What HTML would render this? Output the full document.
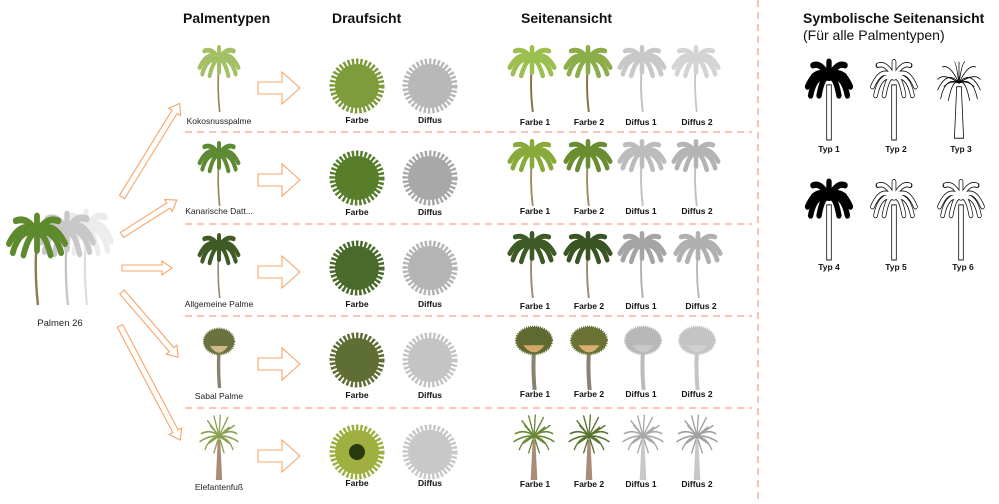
<!DOCTYPE html>
<html><head><meta charset="utf-8"><style>
html,body{margin:0;padding:0;background:#fff;}
svg{display:block;font-family:"Liberation Sans",Arial,sans-serif;}
.h{font-weight:bold;font-size:14px;fill:#111}
.l{font-size:8.5px;fill:#222}
.b{font-weight:bold;font-size:8.5px;fill:#111}
.ar{fill:none;stroke:#f7a468;stroke-width:1.1}
.ds{stroke:#f9a48c;stroke-width:1.3;stroke-dasharray:7 5}
</style></head><body>
<svg width="999" height="504" viewBox="0 0 999 504" xmlns="http://www.w3.org/2000/svg">
<defs>
<symbol id="palm" viewBox="0 0 60 80" preserveAspectRatio="none" overflow="visible">
<path d="M30,20 Q27,50 31,80" fill="none" stroke="var(--t,#9a8460)" stroke-width="2.5"/>
<g fill="none" stroke="var(--c,#7a9a3a)" stroke-width="6" stroke-linecap="round">
<path d="M30,16 Q14,4 1,26"/><path d="M30,16 Q12,12 5,34"/><path d="M30,16 Q20,2 8,6"/>
<path d="M30,16 Q30,0 30,2"/><path d="M30,16 Q40,2 52,6"/><path d="M30,16 Q46,4 59,26"/>
<path d="M30,16 Q48,12 55,34"/><path d="M30,16 Q22,16 16,36"/><path d="M30,16 Q38,16 44,36"/>
<path d="M30,16 Q26,10 10,16"/><path d="M30,16 Q34,10 50,16"/><path d="M30,16 L30,32"/>
</g>
</symbol>
<symbol id="spal" viewBox="0 0 60 80" preserveAspectRatio="none" overflow="visible">
<path d="M30,30 Q28,55 31,80" fill="none" stroke="var(--t,#9a8460)" stroke-width="6"/>
<ellipse cx="30" cy="18" rx="27" ry="17" fill="var(--c)" stroke="var(--c)" stroke-width="3" stroke-dasharray="1.5 1.5"/>
<path d="M14,24 Q30,42 46,24 Z" fill="var(--d,#c8a060)"/>
</symbol>
<symbol id="ele" viewBox="0 0 60 80" preserveAspectRatio="none" overflow="visible">
<path d="M28,30 L32,30 L35,80 L25,80 Z" fill="var(--t,#b09080)"/>
<g fill="none" stroke="var(--c)" stroke-width="2" stroke-linecap="round">
<path d="M30,25 Q16,16 2,22"/><path d="M30,25 L12,6"/><path d="M30,25 L22,0"/><path d="M30,25 L32,-1"/><path d="M30,25 L44,2"/><path d="M30,25 L54,12"/><path d="M30,25 Q46,16 58,22"/><path d="M30,25 Q46,28 52,42"/><path d="M30,25 L38,46"/><path d="M30,25 L22,46"/><path d="M30,25 Q14,28 8,42"/><path d="M30,25 Q14,24 0,32"/><path d="M30,25 L16,12"/><path d="M30,25 L46,14"/><path d="M30,25 L14,34"/><path d="M30,25 L46,34"/><path d="M30,25 Q46,24 60,32"/>
</g>
</symbol>
<symbol id="top" viewBox="-30 -30 60 60">
<circle r="22" fill="var(--c)" stroke="var(--c)" stroke-width="11" stroke-dasharray="2.2 1.6"/>
</symbol>
<symbol id="sym1" viewBox="0 0 60 90" preserveAspectRatio="none" overflow="visible">
<rect x="27" y="28" width="6" height="62" fill="#fff" stroke="#000" stroke-width="1"/>
<g fill="none" stroke="#000" stroke-width="7" stroke-linecap="round">
<path d="M30,20 Q14,6 2,30"/><path d="M30,20 Q12,14 6,40"/><path d="M30,20 Q20,2 9,6"/>
<path d="M30,20 Q30,0 30,2"/><path d="M30,20 Q40,2 51,6"/><path d="M30,20 Q46,6 58,30"/>
<path d="M30,20 Q48,14 54,40"/><path d="M30,20 Q22,16 17,40"/><path d="M30,20 Q38,16 43,40"/><path d="M30,20 Q26,10 10,18"/><path d="M30,20 Q34,10 50,18"/>
</g>
</symbol>
<symbol id="sym2" viewBox="0 0 60 90" preserveAspectRatio="none" overflow="visible">
<rect x="27" y="28" width="6" height="62" fill="#fff" stroke="#000" stroke-width="1"/>
<g fill="none" stroke="#000" stroke-width="6" stroke-linecap="round">
<path d="M30,20 Q14,6 2,30"/><path d="M30,20 Q12,14 6,40"/><path d="M30,20 Q20,2 9,6"/>
<path d="M30,20 Q30,0 30,2"/><path d="M30,20 Q40,2 51,6"/><path d="M30,20 Q46,6 58,30"/>
<path d="M30,20 Q48,14 54,40"/><path d="M30,20 Q22,16 17,40"/><path d="M30,20 Q38,16 43,40"/>
</g>
<g fill="none" stroke="#fff" stroke-width="4.2" stroke-linecap="round" stroke-dasharray="3 1">
<path d="M30,20 Q14,6 2,30"/><path d="M30,20 Q12,14 6,40"/><path d="M30,20 Q20,2 9,6"/>
<path d="M30,20 Q30,0 30,2"/><path d="M30,20 Q40,2 51,6"/><path d="M30,20 Q46,6 58,30"/>
<path d="M30,20 Q48,14 54,40"/><path d="M30,20 Q22,16 17,40"/><path d="M30,20 Q38,16 43,40"/>
</g>
</symbol>
<symbol id="sym3" viewBox="0 0 60 90" preserveAspectRatio="none" overflow="visible">
<path d="M27,30 L33,30 L36,88 L24,88 Z" fill="#fff" stroke="#000" stroke-width="1"/>
<g fill="none" stroke="#000" stroke-width="1">
<path d="M30,26 Q15,10 2,34"/><path d="M30,26 Q12,18 6,44"/><path d="M30,26 Q18,4 8,8"/><path d="M30,26 Q26,2 24,2"/><path d="M30,26 Q34,2 38,2"/><path d="M30,26 Q42,4 52,8"/><path d="M30,26 Q45,10 58,34"/><path d="M30,26 Q48,18 54,44"/><path d="M30,26 Q22,20 16,46"/><path d="M30,26 Q38,20 44,46"/><path d="M30,26 L30,2"/><path d="M30,26 Q10,14 2,22"/><path d="M30,26 Q50,14 58,22"/><path d="M30,26 Q20,22 10,30"/><path d="M30,26 Q40,22 50,30"/>
</g>
</symbol>
</defs>

<text class="h" x="183" y="23">Palmentypen</text>
<text class="h" x="332" y="23">Draufsicht</text>
<text class="h" x="521" y="23">Seitenansicht</text>
<text class="h" x="803" y="23">Symbolische Seitenansicht</text>
<text x="803" y="40" style="font-size:14px;fill:#111">(Für alle Palmentypen)</text>

<use href="#palm" x="60" y="210" width="52" height="95" style="--c:#ececec;--t:#ddd"/>
<use href="#palm" x="40" y="212" width="54" height="93" style="--c:#c8c8c8;--t:#c4c4c4"/>
<use href="#palm" x="8" y="214" width="58" height="91" style="--c:#5e8a2e;--t:#8c7a50"/>
<text class="l" x="60" y="326" text-anchor="middle" style="font-size:9.5px">Palmen 26</text>

<g class="ar">
<path transform="translate(122,197) rotate(-58.3)" d="M0,-3 L100,-3 L100,-7 L110,0 L100,7 L100,3 L0,3 Z"/>
<path transform="translate(122,235) rotate(-32.5)" d="M0,-3 L55,-3 L55,-7 L65,0 L55,7 L55,3 L0,3 Z"/>
<path transform="translate(122,268)" d="M0,-3 L40,-3 L40,-7 L50,0 L40,7 L40,3 L0,3 Z"/>
<path transform="translate(122,292) rotate(49.3)" d="M0,-3 L76,-3 L76,-7 L86,0 L76,7 L76,3 L0,3 Z"/>
<path transform="translate(120,326) rotate(62.2)" d="M0,-3 L119,-3 L119,-7 L129,0 L119,7 L119,3 L0,3 Z"/>
</g>

<line class="ds" x1="758" y1="0" x2="758" y2="504"/>
<line class="ds" x1="185" y1="132" x2="752" y2="132"/>
<line class="ds" x1="185" y1="224" x2="752" y2="224"/>
<line class="ds" x1="185" y1="316" x2="752" y2="316"/>
<line class="ds" x1="185" y1="408" x2="752" y2="408"/>

<g>
<use href="#palm" x="199" y="46" width="40" height="66" style="--c:#a4c064;--t:#9a8460"/>
<text class="l" x="219" y="124" text-anchor="middle">Kokosnusspalme</text>
<polygon class="ar" points="258,82 282,82 282,72 300,88 282,104 282,94 258,94"/>
<use href="#top" x="327" y="56" width="60" height="60" style="--c:#7f9c3c"/>
<use href="#top" x="400" y="56" width="60" height="60" style="--c:#b8b8b8"/>
<text class="b" x="357" y="123" text-anchor="middle">Farbe</text>
<text class="b" x="430" y="123" text-anchor="middle">Diffus</text>
<use href="#palm" x="509" y="46" width="46" height="66" style="--c:#9cc050;--t:#8c6c40"/>
<use href="#palm" x="565" y="46" width="46" height="66" style="--c:#8cae4a;--t:#8c6c40"/>
<use href="#palm" x="619" y="46" width="46" height="66" style="--c:#c8c8c8;--t:#c0c0c0"/>
<use href="#palm" x="673" y="46" width="46" height="66" style="--c:#d4d4d4;--t:#c8c8c8"/>
<text class="b" x="535" y="125" text-anchor="middle">Farbe 1</text>
<text class="b" x="589" y="125" text-anchor="middle">Farbe 2</text>
<text class="b" x="641" y="125" text-anchor="middle">Diffus 1</text>
<text class="b" x="697" y="125" text-anchor="middle">Diffus 2</text>
</g>
<g transform="translate(0,92)">
<use href="#palm" x="199" y="50" width="40" height="64" style="--c:#5f8a34;--t:#9a8460"/>
<text class="l" x="219" y="122" text-anchor="middle">Kanarische Datt...</text>
<polygon class="ar" points="258,82 282,82 282,72 300,88 282,104 282,94 258,94"/>
<use href="#top" x="327" y="56" width="60" height="60" style="--c:#587e2c"/>
<use href="#top" x="400" y="56" width="60" height="60" style="--c:#a8a8a8"/>
<text class="b" x="357" y="123" text-anchor="middle">Farbe</text>
<text class="b" x="430" y="123" text-anchor="middle">Diffus</text>
<use href="#palm" x="509" y="48" width="46" height="66" style="--c:#88aa3a;--t:#a08a60"/>
<use href="#palm" x="565" y="48" width="46" height="66" style="--c:#6a8c30;--t:#a08a60"/>
<use href="#palm" x="619" y="48" width="46" height="66" style="--c:#bcbcbc;--t:#c0c0c0"/>
<use href="#palm" x="673" y="48" width="46" height="66" style="--c:#b4b4b4;--t:#c0c0c0"/>
<text class="b" x="535" y="122" text-anchor="middle">Farbe 1</text>
<text class="b" x="589" y="122" text-anchor="middle">Farbe 2</text>
<text class="b" x="641" y="122" text-anchor="middle">Diffus 1</text>
<text class="b" x="697" y="122" text-anchor="middle">Diffus 2</text>
</g>
<g transform="translate(0,184)">
<use href="#palm" x="199" y="50" width="40" height="64" style="--c:#3f5a24;--t:#9a8a70"/>
<text class="l" x="219" y="123" text-anchor="middle">Allgemeine Palme</text>
<polygon class="ar" points="258,82 282,82 282,72 300,88 282,104 282,94 258,94"/>
<use href="#top" x="327" y="54" width="60" height="60" style="--c:#4a6a2c"/>
<use href="#top" x="400" y="54" width="60" height="60" style="--c:#b4b4b4"/>
<text class="b" x="357" y="123" text-anchor="middle">Farbe</text>
<text class="b" x="430" y="123" text-anchor="middle">Diffus</text>
<use href="#palm" x="509" y="48" width="46" height="66" style="--c:#3e5a26;--t:#9a8a70"/>
<use href="#palm" x="565" y="48" width="46" height="66" style="--c:#3a5424;--t:#9a8a70"/>
<use href="#palm" x="619" y="48" width="46" height="66" style="--c:#a4a4a4;--t:#b0b0b0"/>
<use href="#palm" x="675" y="48" width="46" height="66" style="--c:#b0b0b0;--t:#b8b8b8"/>
<text class="b" x="535" y="125" text-anchor="middle">Farbe 1</text>
<text class="b" x="589" y="125" text-anchor="middle">Farbe 2</text>
<text class="b" x="641" y="125" text-anchor="middle">Diffus 1</text>
<text class="b" x="701" y="125" text-anchor="middle">Diffus 2</text>
</g>
<g transform="translate(0,276)">
<use href="#spal" x="202" y="52" width="34" height="60" style="--c:#6a7340;--d:#d0b888;--t:#8a8270"/>
<text class="l" x="219" y="123" text-anchor="middle">Sabal Palme</text>
<polygon class="ar" points="258,82 282,82 282,72 300,88 282,104 282,94 258,94"/>
<use href="#top" x="327" y="54" width="60" height="60" style="--c:#5e6e34"/>
<use href="#top" x="400" y="54" width="60" height="60" style="--c:#c4c4c4"/>
<text class="b" x="357" y="122" text-anchor="middle">Farbe</text>
<text class="b" x="430" y="122" text-anchor="middle">Diffus</text>
<use href="#spal" x="514" y="50" width="40" height="64" style="--c:#5e6a30;--d:#d2a868;--t:#8a8270"/>
<use href="#spal" x="569" y="50" width="40" height="64" style="--c:#6a7234;--d:#d8b070;--t:#8a8270"/>
<use href="#spal" x="623" y="50" width="40" height="64" style="--c:#b8b8b8;--d:#c8c8c8;--t:#bcbcbc"/>
<use href="#spal" x="677" y="50" width="40" height="64" style="--c:#c4c4c4;--d:#d0d0d0;--t:#c4c4c4"/>
<text class="b" x="535" y="121" text-anchor="middle">Farbe 1</text>
<text class="b" x="589" y="121" text-anchor="middle">Farbe 2</text>
<text class="b" x="641" y="121" text-anchor="middle">Diffus 1</text>
<text class="b" x="697" y="121" text-anchor="middle">Diffus 2</text>
</g>
<g transform="translate(0,368)">
<use href="#ele" x="200" y="48" width="38" height="64" style="--c:#8aa050;--t:#a88c78"/>
<text class="l" x="219" y="122" text-anchor="middle">Elefantenfuß</text>
<polygon class="ar" points="258,82 282,82 282,72 300,88 282,104 282,94 258,94"/>
<use href="#top" x="327" y="54" width="60" height="60" style="--c:#a0b040"/>
<circle cx="357" cy="84" r="8" fill="#2a3a10"/>
<use href="#top" x="400" y="54" width="60" height="60" style="--c:#c8c8c8"/>
<text class="b" x="357" y="118" text-anchor="middle">Farbe</text>
<text class="b" x="430" y="118" text-anchor="middle">Diffus</text>
<use href="#ele" x="514" y="48" width="40" height="64" style="--c:#6a8838;--t:#a88c78"/>
<use href="#ele" x="569" y="48" width="40" height="64" style="--c:#5a7430;--t:#a88c78"/>
<use href="#ele" x="623" y="48" width="40" height="64" style="--c:#a8a8a8;--t:#c8c8c8"/>
<use href="#ele" x="677" y="48" width="40" height="64" style="--c:#a0a0a0;--t:#c8c8c8"/>
<text class="b" x="535" y="119" text-anchor="middle">Farbe 1</text>
<text class="b" x="589" y="119" text-anchor="middle">Farbe 2</text>
<text class="b" x="641" y="119" text-anchor="middle">Diffus 1</text>
<text class="b" x="697" y="119" text-anchor="middle">Diffus 2</text>
</g>

<use href="#sym1" x="806" y="60" width="46" height="80"/>
<use href="#sym2" x="871" y="60" width="46" height="80"/>
<use href="#sym3" x="936" y="60" width="46" height="80"/>
<text class="b" x="829" y="152" text-anchor="middle">Typ 1</text>
<text class="b" x="896" y="152" text-anchor="middle">Typ 2</text>
<text class="b" x="961" y="152" text-anchor="middle">Typ 3</text>
<use href="#sym1" x="806" y="180" width="46" height="80"/>
<use href="#sym2" x="871" y="180" width="46" height="80"/>
<use href="#sym2" x="938" y="180" width="46" height="80"/>
<text class="b" x="829" y="270" text-anchor="middle">Typ 4</text>
<text class="b" x="896" y="270" text-anchor="middle">Typ 5</text>
<text class="b" x="963" y="270" text-anchor="middle">Typ 6</text>
</svg>
</body></html>
